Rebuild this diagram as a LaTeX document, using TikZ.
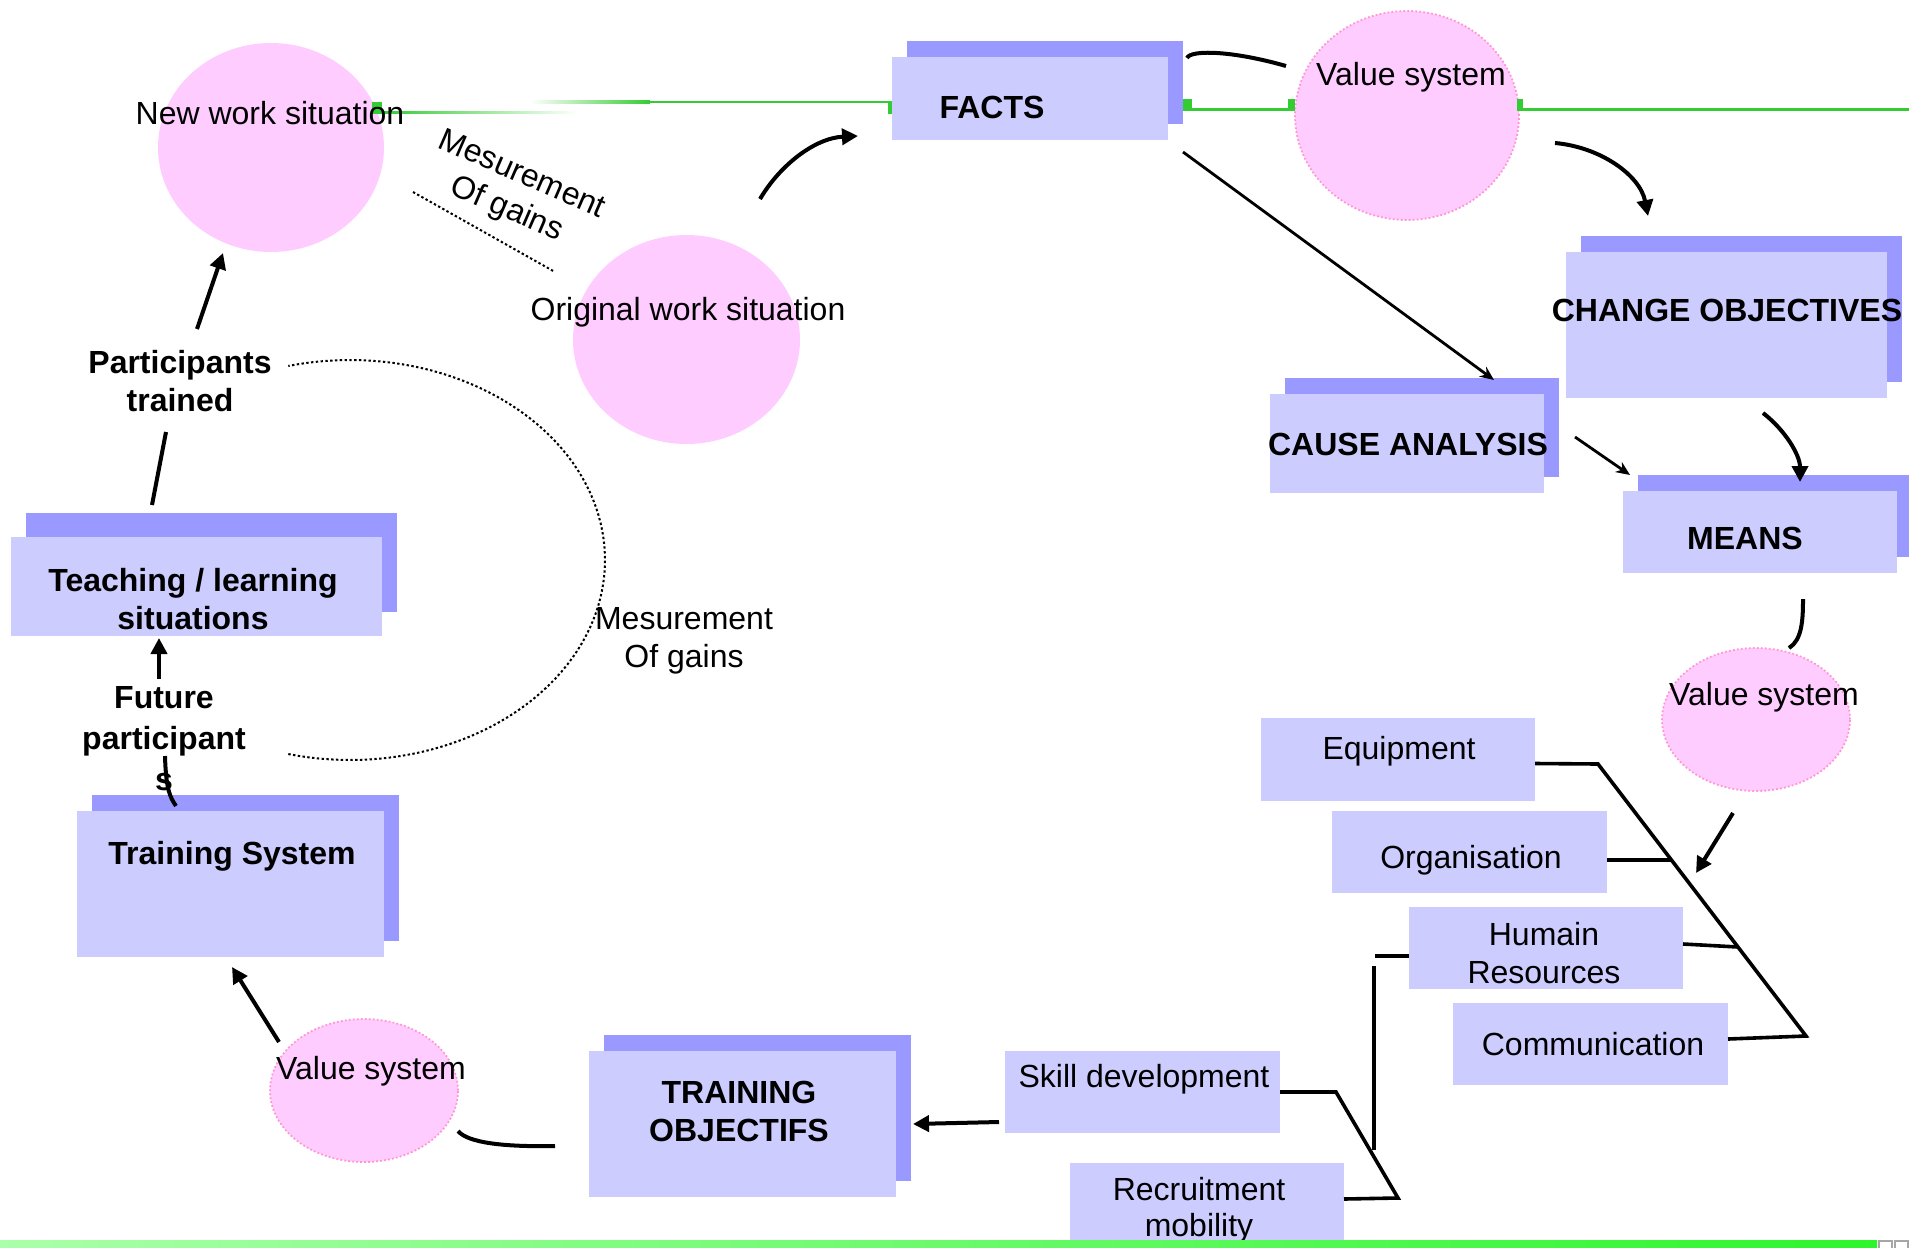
\documentclass[tikz,border=0pt]{standalone}
\usepackage{fontspec}
\setmainfont{Liberation Sans}
\usetikzlibrary{shapes.geometric,arrows.meta,shadows}
\definecolor{boxc}{RGB}{204,204,255}
\definecolor{shadc}{RGB}{153,153,255}
\definecolor{pinkc}{RGB}{255,204,255}
\definecolor{pinkd}{RGB}{255,150,210}
\definecolor{grn}{RGB}{51,204,51}
\definecolor{barl}{RGB}{170,255,170}
\definecolor{barr}{RGB}{45,245,45}
\begin{document}
\begin{tikzpicture}[x=0.5pt,y=-0.5pt,
  box/.style={fill=boxc,draw=none,inner sep=0pt,outer sep=0pt},
  sboxy/.style={box,copy shadow={shadow xshift=7.5pt,shadow yshift=#1,fill=shadc,draw=none}},
  sbox/.style={sboxy=8pt},
  blob/.style={ellipse,fill=pinkc,draw=none,inner sep=0pt,outer sep=0pt},
  vblob/.style={blob,draw=pinkd,line width=0.9pt,dash pattern=on 0.9pt off 1.1pt},
  lbl/.style={font=\fontsize{16}{19}\selectfont,inner sep=0pt,text height=11.6pt,text depth=0pt},
  blbl/.style={lbl,font=\fontsize{16}{19}\selectfont\bfseries},
  mlbl/.style={font=\fontsize{16}{19}\selectfont,inner sep=0pt,align=center},
  bmlbl/.style={mlbl,font=\fontsize{16}{19}\selectfont\bfseries},
  hv/.style={line width=2pt},
  hva/.style={hv,-{Triangle[length=8pt,width=8pt]}},
  tn/.style={line width=1.4pt,-{Stealth[length=7pt,width=6pt]}},
  fish/.style={line width=1.8pt},
  dotl/.style={line width=1pt,dash pattern=on 1.2pt off 1.2pt}
]
\useasboundingbox (0,0) rectangle (1909,1247);

% ellipses
\node[blob, minimum width=113pt, minimum height=104.5pt] (newwork) at (271,147.5) {};
\node[blob, minimum width=113.5pt, minimum height=104.5pt] (orig) at (686.5,339.5) {};
\node[vblob, minimum width=112pt, minimum height=104.5pt] (valtop) at (1407,115.5) {};
\node[vblob, minimum width=94pt, minimum height=71.5pt] (valright) at (1756,719.5) {};
\node[vblob, minimum width=94pt, minimum height=71.5pt] (valbl) at (364,1090.5) {};

% green top line
\fill[grn] (372,102) rectangle (382,114);
\shade[left color=grn, right color=white] (382,111.5) rectangle (578,114);
\shade[left color=white, right color=grn] (530,101) rectangle (650,103.5);
\fill[grn] (650,101) rectangle (888,103.5);
\fill[grn] (888,101) rectangle (894,114);
\fill[grn] (1183,99) rectangle (1192,111);
\fill[grn] (1192,108.5) rectangle (1289,111);
\fill[grn] (1288,99) rectangle (1295,111);
\fill[grn] (1517,99) rectangle (1523,111);
\fill[grn] (1523,108.5) rectangle (1909,111);

% boxes
\node[sbox, minimum width=138pt, minimum height=41.5pt] (facts) at (1030,98.5) {};
\node[sbox, minimum width=160.5pt, minimum height=73pt] (change) at (1726.5,325) {};
\node[sbox, minimum width=137pt, minimum height=49.5pt] (cause) at (1407,443.5) {};
\node[sbox, minimum width=137pt, minimum height=41pt] (means) at (1760,532) {};
\node[sboxy=12pt, minimum width=185.5pt, minimum height=49.5pt] (teach) at (196.5,586.5) {};
\node[sbox, minimum width=153.5pt, minimum height=73pt] (tsys) at (230.5,884) {};
\node[sbox, minimum width=153.5pt, minimum height=73pt] (tobj) at (742.5,1124) {};
\node[box, minimum width=137pt, minimum height=41.5pt] (equip) at (1398,759.5) {};
\node[box, minimum width=137.5pt, minimum height=41pt] (organ) at (1469.5,852) {};
\node[box, minimum width=137pt, minimum height=41pt] (humain) at (1546,948) {};
\node[box, minimum width=137.5pt, minimum height=41pt] (comm) at (1590.5,1044) {};
\node[box, minimum width=137.5pt, minimum height=41pt] (skill) at (1142.5,1092) {};
\node[box, minimum width=137pt, minimum height=42pt] (recr) at (1207,1205) {};

% texts
\node[lbl] (tnew) at (270,113) {New work situation};
\node[lbl] (torig) at (688,309) {Original work situation};
\node[lbl] (tvt) at (1411,73.5) {Value system};
\node[lbl] (tvr) at (1764,693.5) {Value system};
\node[lbl] (tvb) at (371,1068) {Value system};
\node[mlbl] (tmg) at (684,641) {Mesurement\\Of gains};
\node[mlbl, rotate=-23.5] (tmg2) at (514,193) {Mesurement\\Of gains};
\node[blbl] (tfacts) at (992,106.7) {FACTS};
\node[blbl] (tchange) at (1727,309.6) {CHANGE OBJECTIVES};
\node[blbl] (tcause) at (1408,444) {CAUSE ANALYSIS};
\node[blbl] (tmeans) at (1745,537.8) {MEANS};
\node[blbl] (ttsys) at (232,853) {Training System};
\node[bmlbl] (tteach) at (193,599) {Teaching / learning\\situations};
\node[bmlbl] (tpart) at (180,381.5) {Participants\\trained};
\node[bmlbl, font=\fontsize{16}{20.5}\selectfont\bfseries] (tfut) at (164,739) {Future\\participant\\s};
\node[bmlbl] (ttobj) at (739,1111.5) {TRAINING\\OBJECTIFS};
\node[lbl] (teq) at (1399,748) {Equipment};
\node[lbl] (torg) at (1471,856.5) {Organisation};
\node[mlbl] (thr) at (1544,953.5) {Humain\\Resources};
\node[lbl] (tcomm) at (1593,1043.6) {Communication};
\node[lbl] (tskill) at (1144,1075.5) {Skill development};
\node[mlbl, font=\fontsize{16}{18}\selectfont] (trec) at (1199,1210) {Recruitment\\mobility};

% connector end points
\coordinate (o1) at (760,199);
\coordinate (f1) at (858,136);
\coordinate (h1) at (1187,58);
\coordinate (h2) at (1286,66);
\coordinate (v1) at (1555,143);
\coordinate (c1) at (1648,216);
\coordinate (fc1) at (1183,152);
\coordinate (fc2) at (1494,380);
\coordinate (cm1) at (1575,437);
\coordinate (cm2) at (1630,475);
\coordinate (ch1) at (1763,413);
\coordinate (ch2) at (1800,482);
\coordinate (mv1) at (1803,599);
\coordinate (mv2) at (1789,648);
\coordinate (vf1) at (1733,813);
\coordinate (vf2) at (1696,873);
\coordinate (tv1) at (555,1146);
\coordinate (tv2) at (458,1131);
\coordinate (vt1) at (279,1042);
\coordinate (vt2) at (232,967);
\coordinate (fu1) at (165,756);
\coordinate (fu2) at (176,806);
\coordinate (ft1) at (159,679);
\coordinate (ft2) at (159,638);
\coordinate (tp1) at (152,505);
\coordinate (tp2) at (166,432);
\coordinate (pn1) at (197,329);
\coordinate (pn2) at (223,253);
\coordinate (ms1) at (413,192);
\coordinate (ms2) at (555,272);

% connectors
\draw[hva] (o1) .. controls (780,165) and (815,138) .. (f1);
\draw[hv] (h1) .. controls (1190,50) and (1230,50) .. (h2);
\draw[hva] (v1) .. controls (1600,147) and (1640,175) .. (c1);
\draw[tn] (fc1) -- (fc2);
\draw[tn] (cm1) -- (cm2);
\draw[hva] (ch1) .. controls (1785,430) and (1800,455) .. (ch2);
\draw[hv] (mv1) .. controls (1803,620) and (1802,640) .. (mv2);
\draw[hva] (vf1) -- (vf2);

% fishbone
\draw[fish] ([yshift=-2pt]equip.east) -- (1598,764) -- (1806,1036) -- ([yshift=2.5pt]comm.east);
\draw[fish] ([yshift=-4pt]organ.east) -- (1671,860);
\draw[fish] ([yshift=2pt]humain.east) -- (1738,947);
\draw[fish] (1375,956) -- ([yshift=-4pt]humain.west);
\draw[fish] (1374,966) -- (1374,1150);
\draw[fish] (skill.east) -- (1336,1092) -- (1398,1198) -- ([yshift=3pt]recr.east);

\draw[hva] ([xshift=-3pt,yshift=-15pt]skill.west) -- ([xshift=8.5pt]tobj.east);
\draw[hv] (tv1) .. controls (505,1147) and (468,1143) .. (tv2);
\draw[hva] (vt1) -- (vt2);
\draw[hv] (fu1) .. controls (166,790) and (170,797) .. (fu2);
\draw[hva] (ft1) -- (ft2);
\draw[hv] (tp1) -- (tp2);
\draw[hva] (pn1) -- (pn2);

% dotted lines
\draw[dotl] plot[domain=-104:104, samples=90] ({350+255*cos(\x)},{560-200*sin(\x)});
\draw[dotl] (ms1) -- (ms2);

% bottom bar
\shade[left color=barl, right color=barr] (0,1240) rectangle (1877,1247);
\draw[gray!70, line width=1pt] (1879,1241) rectangle (1892,1252);
\draw[gray!70, line width=1pt] (1895,1241) rectangle (1908,1252);
\end{tikzpicture}
\end{document}
